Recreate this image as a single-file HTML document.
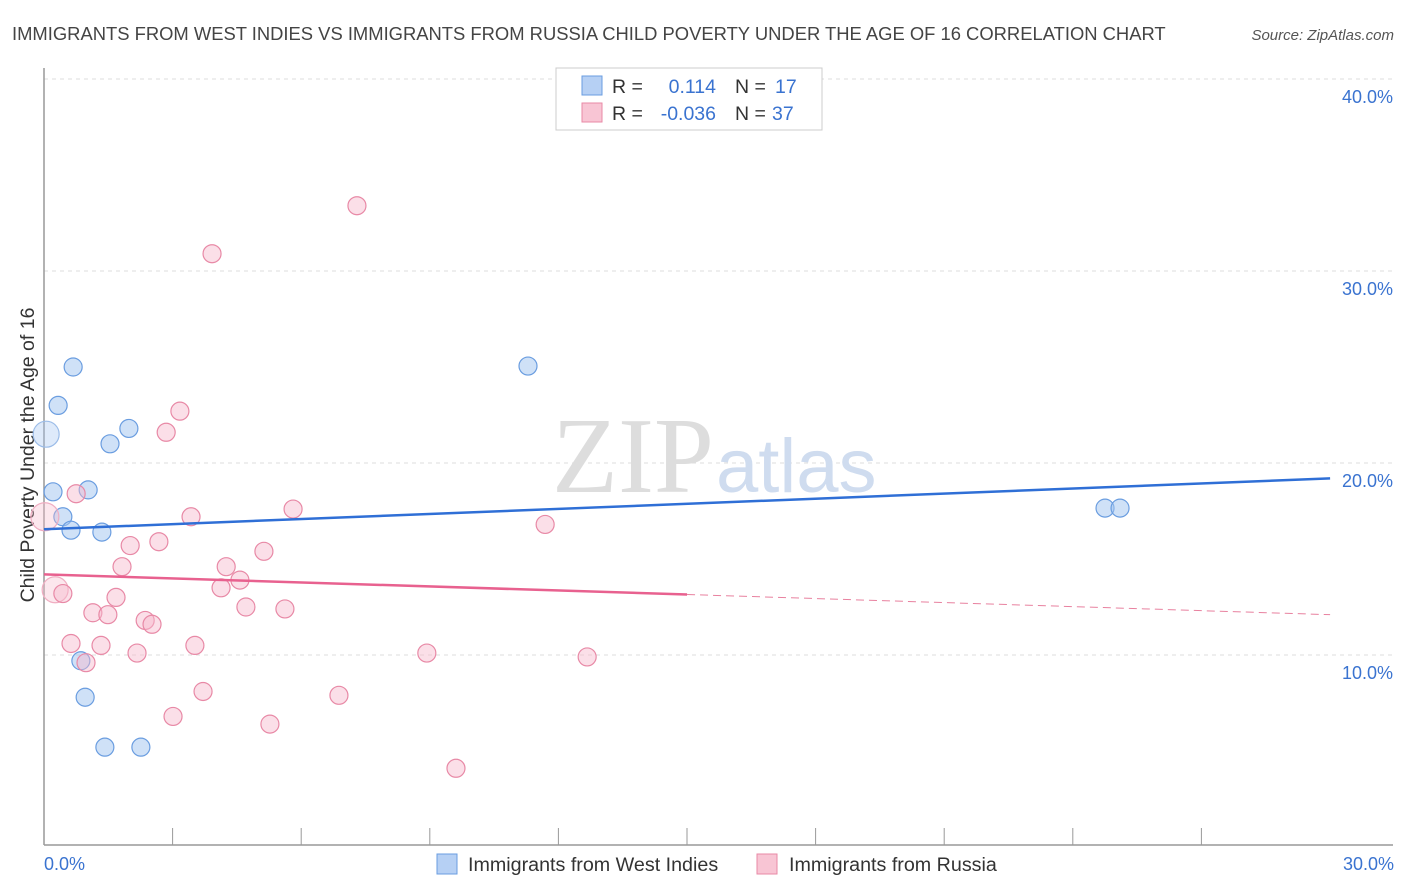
<!DOCTYPE html>
<html><head><meta charset="utf-8"><style>
body{margin:0;background:#fff;font-family:"Liberation Sans",sans-serif}
</style></head><body>
<svg width="1406" height="892" style="display:block">
<text x="12" y="40" font-size="18.4" fill="#444">IMMIGRANTS FROM WEST INDIES VS IMMIGRANTS FROM RUSSIA CHILD POVERTY UNDER THE AGE OF 16 CORRELATION CHART</text>
<text x="1394" y="40" font-size="15" fill="#555" font-style="italic" text-anchor="end">Source: ZipAtlas.com</text>
<g id="grid"></g>
<text x="714" y="492" font-size="108" fill="#ddd" font-family="Liberation Serif,serif" text-anchor="end">ZIP</text>
<text x="716" y="492" font-size="76" fill="#cfdcef">atlas</text>
<line x1="44" y1="68" x2="44" y2="845" stroke="#999" stroke-width="1.5"/>
<line x1="44" y1="845" x2="1393" y2="845" stroke="#999" stroke-width="1.5"/>
<text transform="translate(34,455) rotate(-90)" font-size="19.5" fill="#333" text-anchor="middle">Child Poverty Under the Age of 16</text>
<text x="44" y="870" font-size="18" fill="#3a73d0">0.0%</text>
<text x="1394" y="870" font-size="18" fill="#3a73d0" text-anchor="end">30.0%</text>
<g id="pts"></g>
<g id="lines"></g>
<g>
<rect x="556" y="68" width="266" height="62" fill="#fff" stroke="#ccc"/>
<rect x="582" y="76" width="20" height="19" fill="#b6d0f4" stroke="#6a9de0"/>
<rect x="582" y="103" width="20" height="19" fill="#f8c5d4" stroke="#e889a6"/>
<text x="612" y="93" font-size="19.5" fill="#333">R = </text><text x="716" y="93" font-size="19.5" fill="#3a73d0" text-anchor="end">0.114</text>
<text x="735" y="93" font-size="19.5" fill="#333">N = </text><text x="775" y="93" font-size="19.5" fill="#3a73d0">17</text>
<text x="612" y="120" font-size="19.5" fill="#333">R = </text><text x="716" y="120" font-size="19.5" fill="#3a73d0" text-anchor="end">-0.036</text>
<text x="735" y="120" font-size="19.5" fill="#333">N = </text><text x="772" y="120" font-size="19.5" fill="#3a73d0">37</text>
</g>
<g>
<rect x="437" y="854" width="20" height="20" fill="#b6d0f4" stroke="#6a9de0"/>
<text x="468" y="871" font-size="19.7" fill="#333">Immigrants from West Indies</text>
<rect x="757" y="854" width="20" height="20" fill="#f8c5d4" stroke="#e889a6"/>
<text x="789" y="871" font-size="19.7" fill="#333">Immigrants from Russia</text>
</g>
</svg>
<script>
const yTicks=[10,20,30,40];
const blueX=[0.68,0.33,0.05,1.54,1.98,0.21,1.03,0.44,0.63,1.35,0.86,0.96,1.42,2.26,11.29,24.75,25.1];
const blueY=[25.0,23.0,21.5,21.0,21.8,18.5,18.6,17.2,16.5,16.4,9.7,7.8,5.2,5.2,25.05,17.65,17.65];
const blueR=[9,9,13,9,9,9,9,9,9,9,9,9,9,9,9,9,9];
const pinkX=[0.02,0.75,0.26,0.44,3.17,2.85,3.43,5.81,11.69,7.30,3.92,2.01,2.68,5.13,1.82,4.25,4.57,4.13,1.68,1.14,1.49,4.71,5.62,2.36,2.52,0.63,1.33,3.52,2.17,8.93,12.67,0.98,3.71,6.88,3.01,5.27,9.61];
const pinkY=[17.2,18.4,13.4,13.2,22.7,21.6,17.2,17.6,16.8,33.4,30.9,15.7,15.9,15.4,14.6,14.6,13.9,13.5,13.0,12.2,12.1,12.5,12.4,11.8,11.6,10.6,10.5,10.5,10.1,10.1,9.9,9.6,8.1,7.9,6.8,6.4,4.1];
const pinkR=[14,9,13,9,9,9,9,9,9,9,9,9,9,9,9,9,9,9,9,9,9,9,9,9,9,9,9,9,9,9,9,9,9,9,9,9,9];
const blueTrend=[16.55,19.2];
const pinkTrend=[14.2,12.1];
const pinkSolidEnd=15;
const NS='http://www.w3.org/2000/svg';
const sx=v=>44+v*42.87, sy=v=>847-v*19.2;
function mk(t,a,p){const e=document.createElementNS(NS,t);for(const k in a)e.setAttribute(k,a[k]);document.getElementById(p).appendChild(e);return e;}
yTicks.forEach(t=>{
 const l=mk('line',{x1:44,x2:1393,y1:sy(t),y2:sy(t),stroke:'#ddd','stroke-dasharray':'4,4'},'grid');
 
 
 const tx=mk('text',{x:1393,y:sy(t)+24,'font-size':18,fill:'#3a73d0','text-anchor':'end'},'grid');
 tx.textContent=t.toFixed(1)+'%';
 
 
});
for(let i=1;i<=9;i++){
 const l=mk('line',{x1:44+i*128.6,x2:44+i*128.6,y1:828,y2:845,stroke:'#999'},'grid');
 
 
}
blueX.forEach((x,i)=>{
 const big=blueR[i]>10;
 const c=mk('circle',{cx:sx(x),cy:sy(blueY[i]),r:blueR[i],fill:big?'rgba(160,195,240,0.35)':'rgba(160,195,240,0.5)',stroke:big?'#9bbce8':'#6a9de0','stroke-width':1.2},'pts');
 
 
});
pinkX.forEach((x,i)=>{
 const big=pinkR[i]>10;
 const c=mk('circle',{cx:sx(x),cy:sy(pinkY[i]),r:pinkR[i],fill:big?'rgba(246,185,203,0.35)':'rgba(246,185,203,0.45)',stroke:big?'#f0aec2':'#e889a6','stroke-width':1.2},'pts');
 
 
});
const bl=mk('line',{x1:sx(0),y1:sy(blueTrend[0]),x2:sx(30),y2:sy(blueTrend[1]),stroke:'#2f6fd6','stroke-width':2.5},'lines');


const pm=pinkTrend[0]+(pinkTrend[1]-pinkTrend[0])*pinkSolidEnd/30;
const pl=mk('line',{x1:sx(0),y1:sy(pinkTrend[0]),x2:sx(pinkSolidEnd),y2:sy(pm),stroke:'#e8618f','stroke-width':2.5},'lines');


const pd=mk('line',{x1:sx(pinkSolidEnd),y1:sy(pm),x2:sx(30),y2:sy(pinkTrend[1]),stroke:'#e8819f','stroke-width':1,'stroke-dasharray':'8,5'},'lines');


</script>
</body></html>
